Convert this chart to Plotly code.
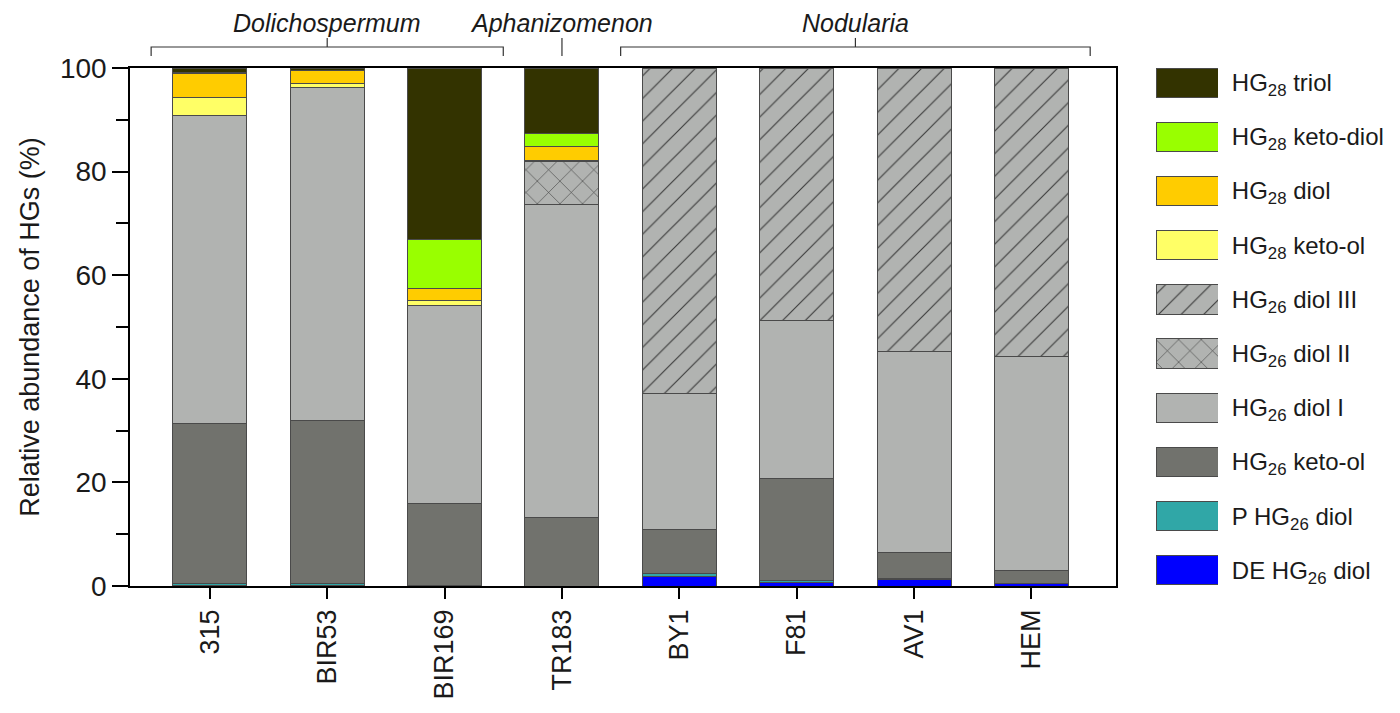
import plotly.graph_objects as go

strains = ["315", "BIR53", "BIR169", "TR183", "BY1", "F81", "AV1", "HEM"]
groups = [("Dolichospermum", 0, 2), ("Aphanizomenon", 3, 3), ("Nodularia", 4, 7)]

de_hg26_diol = [0.1, 0.1, None, None, 1.9, 0.7, 1.2, 0.4]
p_hg26_diol = [0.3, 0.3, 0.1, None, 0.5, 0.3, 0.2, 0.1]
hg26_keto_ol = [30.9, 31.5, 15.9, 13.3, 8.6, 19.7, 5.0, 2.5]
hg26_diol_i = [59.6, 64.4, 38.2, 60.3, 26.1, 30.5, 38.8, 41.4]
hg26_diol_ii = [None, None, None, 8.3, None, None, None, None]
hg26_diol_iii = [None, None, None, None, 62.9, 48.8, 54.8, 55.6]
hg28_keto_ol = [3.4, 0.8, 1.0, 0.3, None, None, None, None]
hg28_diol = [4.6, 2.4, 2.2, 2.7, None, None, None, None]
hg28_keto_diol = [0.3, 0.1, 9.4, 2.4, None, None, None, None]
hg28_triol = [0.8, 0.4, 33.2, 12.7, None, None, None, None]

series_names = [
    "DE HG<sub>26</sub> diol",
    "P HG<sub>26</sub> diol",
    "HG<sub>26</sub> keto-ol",
    "HG<sub>26</sub> diol I",
    "HG<sub>26</sub> diol II",
    "HG<sub>26</sub> diol III",
    "HG<sub>28</sub> keto-ol",
    "HG<sub>28</sub> diol",
    "HG<sub>28</sub> keto-diol",
    "HG<sub>28</sub> triol",
]
series_values = [de_hg26_diol, p_hg26_diol, hg26_keto_ol, hg26_diol_i, hg26_diol_ii,
                 hg26_diol_iii, hg28_keto_ol, hg28_diol, hg28_keto_diol, hg28_triol]
colors = ["#0000ff", "#30a7a7", "#71726d", "#b1b3b1", "#b1b3b1", "#b1b3b1",
          "#ffff66", "#ffcc00", "#99ff00", "#333300"]
patterns = ["", "", "", "", "x", "/", "", "", "", ""]

FONT = "Liberation Sans, Arial, sans-serif"
TXT = "#1a1a1a"

fig = go.Figure()
for name, vals, col, pat in zip(series_names, series_values, colors, patterns):
    marker = dict(color=col, line=dict(color="#4a4a4a", width=1))
    if pat:
        marker["pattern"] = dict(shape=pat, fgcolor="#3a3a3a", bgcolor=col,
                                 fillmode="replace", size=16, solidity=0.07)
    fig.add_trace(go.Bar(x=strains, y=vals, name=name, marker=marker, width=0.63,
                         showlegend=False, xaxis="x", yaxis="y"))
    # legend swatch drawn on a separate small axis
    fig.add_trace(go.Bar(x=[1], y=[name], orientation="h", marker=marker, width=0.54,
                         showlegend=False, xaxis="x2", yaxis="y2", hoverinfo="skip"))

# group brackets and labels
shapes = []
annotations = []
y_low, y_mid, y_high = 1.023, 1.0405, 1.058
for label, a, b in groups:
    mid = (a + b) / 2
    if a == b:
        shapes.append(dict(type="line", xref="x", yref="paper", x0=a, x1=a,
                           y0=y_low, y1=y_high, line=dict(color="#333", width=1.2)))
    else:
        shapes.append(dict(type="path", xref="x", yref="paper",
                           path=f"M {a-0.5},{y_low} L {a-0.5},{y_mid} L {b+0.5},{y_mid} L {b+0.5},{y_low}",
                           line=dict(color="#333", width=1.2)))
        shapes.append(dict(type="line", xref="x", yref="paper", x0=mid, x1=mid,
                           y0=y_mid, y1=y_high, line=dict(color="#333", width=1.2)))
    annotations.append(dict(text=f"<i>{label}</i>", xref="x", yref="paper", x=mid,
                            y=1 + 60 / 518, showarrow=False, xanchor="center", yanchor="top",
                            borderpad=0, font=dict(family=FONT, size=25, color=TXT)))

W = 1400 - 122 - 18
fig.update_layout(
    width=1400, height=713,
    margin=dict(l=122, r=18, t=60, b=135),
    barmode="stack",
    plot_bgcolor="white", paper_bgcolor="white",
    font=dict(family=FONT, color=TXT),
    shapes=shapes, annotations=annotations,
    xaxis=dict(domain=[0, 986 / W], type="category", range=[-0.68, 7.72],
               showline=True, linecolor="black", linewidth=1.5, mirror=True,
               ticks="outside", ticklen=11, tickwidth=1.5, tickcolor="black",
               tickangle=-90, tickfont=dict(size=27, family=FONT, color=TXT),
               showgrid=False, zeroline=False),
    yaxis=dict(range=[0, 100], dtick=20, showline=True, linecolor="black", linewidth=1.5,
               mirror=True, ticks="outside", ticklen=16, tickwidth=1.5, tickcolor="black",
               minor=dict(dtick=10, ticklen=12, tickwidth=1.5, tickcolor="black", ticks="outside"),
               tickfont=dict(size=28, family=FONT, color=TXT),
               title=dict(text="Relative abundance of HGs (%)", standoff=12,
                          font=dict(size=27, family=FONT, color=TXT)),
               showgrid=False, zeroline=False),
    xaxis2=dict(domain=[1026 / W, 1088 / W], range=[0, 1], anchor="y2", visible=False,
                fixedrange=True),
    yaxis2=dict(domain=[0, 1], anchor="x2", side="right", type="category",
                categoryorder="array", categoryarray=series_names,
                range=[-0.29, 9.27], showline=False, showgrid=False, zeroline=False,
                ticks="outside", ticklen=8, tickcolor="rgba(0,0,0,0)",
                tickfont=dict(size=24, family=FONT, color=TXT)),
)

fig.write_html("out.html")
